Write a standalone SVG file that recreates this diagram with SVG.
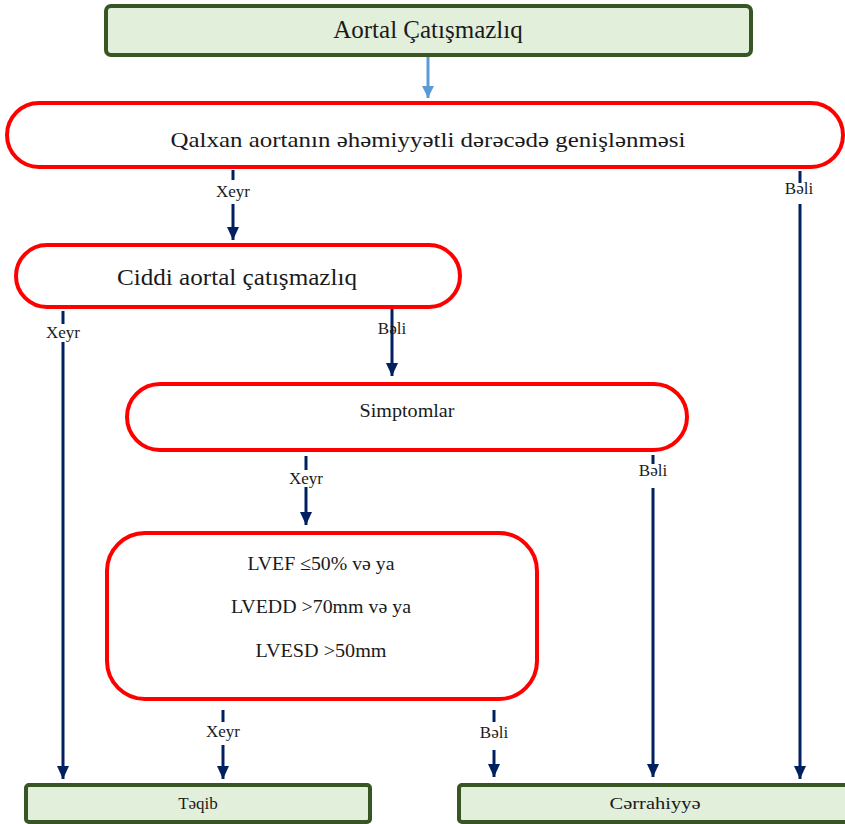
<svg xmlns="http://www.w3.org/2000/svg" width="845" height="824" viewBox="0 0 845 824">
  <style>
    .term { fill: #e2efda; stroke: #375623; stroke-width: 4; }
    .dec { fill: #ffffff; stroke: #ff0000; stroke-width: 4; }
    text { font-family: 'Liberation Serif', Tinos, 'Times New Roman', Times, 'DejaVu Serif', serif; fill: #1a1a1a; text-anchor: middle; }
    .lbl { font-size: 17px; }
    .flow { stroke: #002060; stroke-width: 3; fill: none; }
    .start { stroke: #5b9bd5; stroke-width: 3; fill: none; }
  </style>
  <defs>
    <marker id="ah" markerUnits="userSpaceOnUse" markerWidth="13" markerHeight="12" refX="13" refY="6" orient="auto" viewBox="0 0 13 12">
      <path d="M0,0 L13,6 L0,12 Z" fill="#002060"/>
    </marker>
    <marker id="ahb" markerUnits="userSpaceOnUse" markerWidth="12" markerHeight="12" refX="12" refY="6" orient="auto" viewBox="0 0 12 12">
      <path d="M0,0 L12,6 L0,12 Z" fill="#5b9bd5"/>
    </marker>
  </defs>

  <!-- Nodes -->
  <g id="n-start">
    <rect class="term" x="106" y="6" width="645" height="49" rx="5"/>
    <text x="428" y="38" font-size="25">Aortal Çatışmazlıq</text>
  </g>

  <g id="n-dilation">
    <rect class="dec" x="7" y="103" width="836" height="64" rx="32"/>
    <text x="428" y="147" font-size="22" textLength="515" lengthAdjust="spacingAndGlyphs">Qalxan aortanın əhəmiyyətli dərəcədə genişlənməsi</text>
  </g>

  <g id="n-severe">
    <rect class="dec" x="16" y="245" width="444" height="62" rx="31"/>
    <text x="237" y="285" font-size="24" textLength="240" lengthAdjust="spacingAndGlyphs">Ciddi aortal çatışmazlıq</text>
  </g>

  <g id="n-symptoms">
    <rect class="dec" x="127" y="384" width="560" height="66" rx="33"/>
    <text x="407" y="417" font-size="18" textLength="95" lengthAdjust="spacingAndGlyphs">Simptomlar</text>
  </g>

  <g id="n-criteria">
    <rect class="dec" x="107" y="533" width="430" height="166" rx="38"/>
    <text x="321" y="570" font-size="19" textLength="147" lengthAdjust="spacingAndGlyphs">LVEF ≤50% və ya</text>
    <text x="321" y="613" font-size="19" textLength="180" lengthAdjust="spacingAndGlyphs">LVEDD &gt;70mm və ya</text>
    <text x="321" y="657" font-size="19" textLength="131" lengthAdjust="spacingAndGlyphs">LVESD &gt;50mm</text>
  </g>

  <g id="n-followup">
    <rect class="term" x="26" y="785" width="344" height="37" rx="3"/>
    <text x="198" y="809" font-size="17">Təqib</text>
  </g>

  <g id="n-surgery">
    <rect class="term" x="459" y="785" width="392" height="37" rx="3"/>
    <text x="655" y="809" font-size="17" textLength="91" lengthAdjust="spacingAndGlyphs">Cərrahiyyə</text>
  </g>

  <!-- Connectors -->
  <g id="connectors">
    <line class="start" x1="428" y1="57" x2="428" y2="98" marker-end="url(#ahb)"/>

    <!-- dilation: no -->
    <line class="flow" x1="233" y1="170" x2="233" y2="180"/>
    <line class="flow" x1="233" y1="204" x2="233" y2="240" marker-end="url(#ah)"/>
    <text class="lbl" x="233" y="197">Xeyr</text>

    <!-- dilation: yes -->
    <line class="flow" x1="800" y1="171" x2="800" y2="183"/>
    <line class="flow" x1="800" y1="204" x2="800" y2="779" marker-end="url(#ah)"/>
    <text class="lbl" x="799" y="194">Bəli</text>

    <!-- severe: no -->
    <line class="flow" x1="63" y1="311" x2="63" y2="324"/>
    <line class="flow" x1="63" y1="342" x2="63" y2="779" marker-end="url(#ah)"/>
    <text class="lbl" x="63" y="338">Xeyr</text>

    <!-- severe: yes -->
    <line class="flow" x1="392" y1="309" x2="392" y2="376" marker-end="url(#ah)"/>
    <text class="lbl" x="392" y="334">Bəli</text>

    <!-- symptoms: no -->
    <line class="flow" x1="306" y1="456" x2="306" y2="470"/>
    <line class="flow" x1="306" y1="487" x2="306" y2="525" marker-end="url(#ah)"/>
    <text class="lbl" x="306" y="484">Xeyr</text>

    <!-- symptoms: yes -->
    <line class="flow" x1="653" y1="455" x2="653" y2="464"/>
    <line class="flow" x1="653" y1="488" x2="653" y2="777" marker-end="url(#ah)"/>
    <text class="lbl" x="653" y="476">Bəli</text>

    <!-- criteria: no -->
    <line class="flow" x1="223" y1="710" x2="223" y2="722"/>
    <line class="flow" x1="223" y1="745" x2="223" y2="779" marker-end="url(#ah)"/>
    <text class="lbl" x="223" y="737">Xeyr</text>

    <!-- criteria: yes -->
    <line class="flow" x1="494" y1="710" x2="494" y2="722"/>
    <line class="flow" x1="494" y1="750" x2="494" y2="777" marker-end="url(#ah)"/>
    <text class="lbl" x="494" y="738">Bəli</text>
  </g>
</svg>
